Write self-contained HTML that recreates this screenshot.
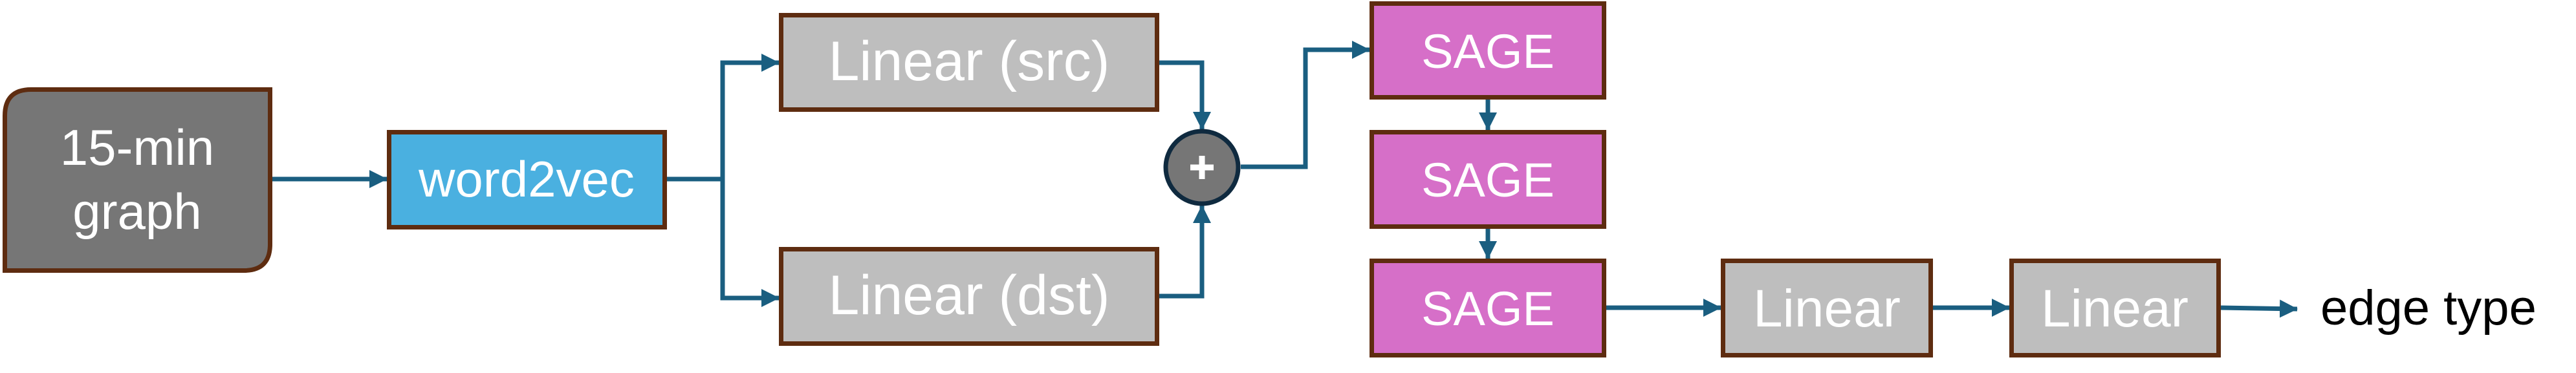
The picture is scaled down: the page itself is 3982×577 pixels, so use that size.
<!DOCTYPE html>
<html><head><meta charset="utf-8"><style>
html,body{margin:0;padding:0;background:#fff;}
svg{display:block;}
text{font-family:"Liberation Sans",sans-serif;}
</style></head><body>
<svg width="3982" height="577" viewBox="0 0 3982 577" xmlns="http://www.w3.org/2000/svg">
<defs>
<marker id="a" markerUnits="userSpaceOnUse" markerWidth="28" markerHeight="28" refX="27" refY="14" orient="auto">
<path d="M0,0 L28,14 L0,28 Z" fill="#1A5E80"/>
</marker>
</defs>
<g fill="none" stroke="#1A5E80" stroke-width="7">
<path d="M421,277 L598,277" marker-end="url(#a)"/>
<path d="M1031,277 L1117,277"/>
<path d="M1117,461 L1117,97 L1204,97" marker-end="url(#a)"/>
<path d="M1117,277 L1117,461 L1204,461" marker-end="url(#a)"/>
<path d="M1792,97 L1858,97 L1858,200" marker-end="url(#a)"/>
<path d="M1792,458 L1858,458 L1858,318" marker-end="url(#a)"/>
<path d="M1918,258 L2018,258 L2018,77 L2117,77" marker-end="url(#a)"/>
<path d="M2300,154 L2300,201" marker-end="url(#a)"/>
<path d="M2300,354 L2300,400" marker-end="url(#a)"/>
<path d="M2483,476 L2660,476" marker-end="url(#a)"/>
<path d="M2988,476 L3106,476" marker-end="url(#a)"/>
<path d="M3433,476 L3551,478" marker-end="url(#a)"/>
</g>
<g stroke="#5E2C10" stroke-width="7">
<path d="M48,138.5 L417.5,138.5 L417.5,378 Q417.5,418.5 377,418.5 L7.5,418.5 L7.5,179 Q7.5,138.5 48,138.5 Z" fill="#767676"/>
<rect x="601.5" y="204.5" width="426" height="147" fill="#4AB0E0"/>
<rect x="1207.5" y="23.5" width="581" height="146" fill="#BEBEBE"/>
<rect x="1207.5" y="385.5" width="581" height="146" fill="#BEBEBE"/>
<rect x="2120.5" y="5.5" width="359" height="145" fill="#D66FC8"/>
<rect x="2120.5" y="204.5" width="359" height="146" fill="#D66FC8"/>
<rect x="2120.5" y="403.5" width="359" height="146" fill="#D66FC8"/>
<rect x="2663.5" y="403.5" width="321" height="146" fill="#BEBEBE"/>
<rect x="3109.5" y="403.5" width="320" height="146" fill="#BEBEBE"/>
</g>
<circle cx="1858" cy="259" r="56" fill="#767676" stroke="#0F2A3F" stroke-width="7"/>
<path d="M1840,259 L1876,259 M1858,241 L1858,277" stroke="#fff" stroke-width="9"/>
<g fill="#fff" font-size="78" text-anchor="middle">
<text x="212" y="255">15-min</text>
<text x="212" y="354">graph</text>
<text x="814" y="304">word2vec</text>
<text x="1498" y="124" font-size="86">Linear (src)</text>
<text x="1498" y="486" font-size="86">Linear (dst)</text>
<text x="2300" y="105" font-size="74">SAGE</text>
<text x="2300" y="304" font-size="74">SAGE</text>
<text x="2300" y="503" font-size="74">SAGE</text>
<text x="2824" y="505" font-size="82">Linear</text>
<text x="3269" y="505" font-size="82">Linear</text>
</g>
<text x="3587" y="502" font-size="76" fill="#000">edge type</text>
</svg>
</body></html>
